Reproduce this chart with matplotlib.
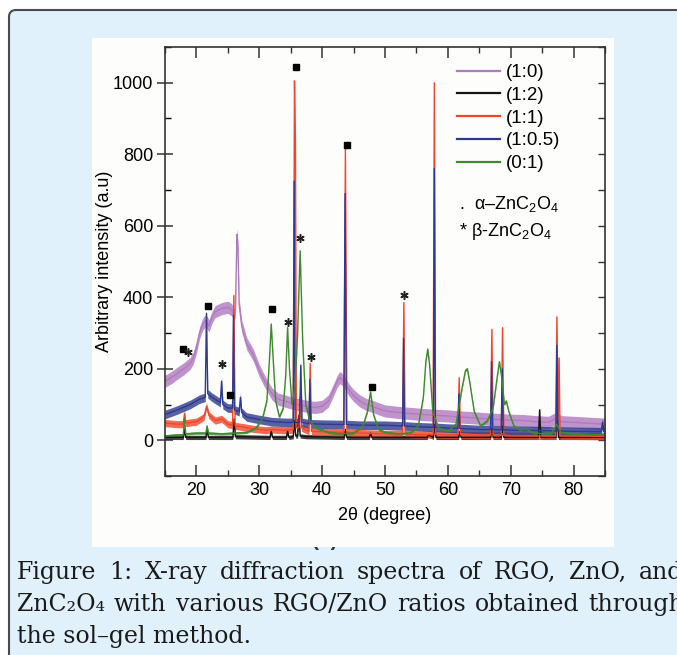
import numpy as np
import matplotlib.pyplot as plt
from matplotlib.patches import FancyBboxPatch, Rectangle
from matplotlib.transforms import IdentityTransform
from matplotlib.ticker import MultipleLocator

plt.rcParams['font.family'] = ['Liberation Sans', 'DejaVu Sans']
plt.rcParams['mathtext.fontset'] = 'custom'
plt.rcParams['mathtext.rm'] = 'Liberation Sans'

# ---- data (2theta in degree, intensity in a.u.) ----
x_10 = [15, 16, 17, 18, 19, 19.5, 20, 20.5, 21, 21.5, 22, 22.5, 23, 24, 25, 25.6, 26.0, 26.2, 26.45, 26.6,
        26.8, 27.2, 28, 29, 30, 31, 32, 33, 34, 35, 36, 37, 38, 39, 40, 41, 41.8, 42.4, 42.8, 43.2, 43.6,
        44.3, 45, 46, 47, 48, 49, 50, 52, 54, 56, 58, 60, 62, 64, 66, 68, 70, 72, 74, 76, 77.3, 78, 80,
        82, 84, 85]
y_10 = [165, 175, 188, 200, 215, 230, 260, 300, 325, 335, 320, 345, 360, 368, 372, 365, 350, 360, 576, 540,
        380, 320, 270, 240, 195, 160, 130, 115, 110, 105, 100, 97, 93, 92, 95, 110, 140, 165, 175, 170, 160,
        140, 125, 110, 100, 95, 88, 82, 78, 75, 72, 70, 68, 65, 63, 60, 58, 56, 55, 52, 50, 62, 52, 50,
        48, 46, 45]

x_12 = [15, 17.9, 18.1, 18.3, 21.5, 21.7, 21.9, 25.8, 26.0, 26.2, 31.7, 31.9, 32.1, 34.3, 34.5, 34.7,
        35.4, 35.6, 35.8, 36.1, 36.3, 36.5, 37.5, 43.5, 43.7, 43.9, 47.5, 47.7, 47.9, 56.7, 56.9, 57.7,
        57.9, 58.1, 61.7, 61.9, 62.1, 66.8, 67.0, 67.2, 68.5, 68.7, 68.9, 74.4, 74.6, 74.8, 77.2, 77.4,
        77.6, 85]
y_12 = [8, 8, 30, 8, 8, 30, 8, 8, 60, 10, 8, 25, 8, 8, 25, 8,
        10, 55, 12, 12, 70, 12, 10, 8, 30, 8, 8, 20, 8, 8, 15, 8,
        45, 8, 8, 25, 8, 8, 35, 8, 8, 40, 8, 8, 85, 8, 8, 70,
        8, 8]

x_11 = [15, 17, 17.9, 18.1, 18.3, 20, 21.2, 21.6, 22.0, 23, 24.0, 25.0, 25.75, 25.95, 26.15, 27, 29, 31,
        32.0, 34, 35.4, 35.6, 35.75, 35.9, 36.3, 36.5, 36.7, 37.9, 38.1, 38.3, 40, 43.45, 43.7, 43.95,
        46, 50, 52.8, 53.0, 53.2, 55, 57.65, 57.85, 58.05, 60, 61.6, 61.8, 62.0, 65, 66.8, 67.0, 67.2,
        68.5, 68.7, 68.9, 70, 75, 77.15, 77.35, 77.55, 77.7, 77.85, 80, 85]
y_11 = [48, 45, 45, 75, 48, 52, 65, 95, 70, 55, 60, 45, 42, 405, 40, 38, 32, 28,
        30, 28, 30, 1005, 840, 35, 35, 120, 35, 25, 215, 25, 24, 22, 815, 22,
        20, 18, 18, 385, 18, 16, 16, 1000, 16, 15, 15, 175, 15, 14, 14, 310, 14,
        14, 315, 14, 13, 12, 12, 345, 60, 230, 12, 12, 11]

x_105 = [15, 17, 19, 20.5, 21.4, 21.6, 21.8, 22.5, 23.8, 24.0, 24.2, 25.0, 25.75, 25.9, 26.05, 26.8, 27.0,
         27.2, 28, 30, 32, 34, 35.4, 35.55, 35.7, 36.4, 36.6, 36.8, 37.9, 38.05, 38.2, 40, 43.45, 43.65,
         43.85, 46, 50, 52.8, 52.95, 53.1, 55, 57.7, 57.85, 58.0, 60, 61.6, 61.75, 61.9, 65, 66.8, 66.95,
         67.1, 68.5, 68.65, 68.8, 70, 75, 77.2, 77.35, 77.5, 80, 84.4, 84.6, 84.8, 85]
y_105 = [72, 85, 100, 115, 120, 355, 130, 120, 105, 165, 100, 90, 90, 350, 85, 80, 120,
         78, 65, 58, 52, 50, 50, 725, 50, 50, 210, 50, 46, 170, 46, 45, 44, 690,
         44, 42, 42, 40, 285, 40, 38, 36, 760, 36, 34, 33, 130, 33, 30, 30, 220,
         30, 29, 200, 29, 28, 27, 26, 265, 26, 25, 24, 50, 24, 24]

x_01 = [15, 17, 17.9, 18.1, 18.3, 20, 21.5, 21.7, 21.9, 24, 26, 28, 29.5, 30.5, 31.2, 31.6, 31.9, 32.2,
        32.6, 33.2, 33.8, 34.2, 34.5, 34.8, 35.2, 35.7, 36.1, 36.5, 36.9, 37.4, 38, 39, 41, 43, 45, 46.5,
        47.2, 47.7, 48.2, 49, 50, 52, 54, 55.3, 56.1, 56.5, 56.8, 57.1, 57.6, 58.5, 60, 61.3, 62.2, 62.8,
        63.1, 63.5, 64.2, 65.2, 66.3, 67.2, 67.8, 68.2, 68.6, 69.0, 69.3, 69.7, 70.5, 71.5, 72.5, 73.5,
        75, 76.5, 77.3, 78, 80, 82, 85]
y_01 = [12, 15, 15, 60, 18, 20, 20, 40, 20, 18, 20, 22, 35, 60, 110, 220, 325, 230,
        110, 65, 90, 180, 315, 200, 100, 150, 300, 530, 280, 100, 55, 35, 22, 18, 20, 40,
        80, 135, 70, 30, 22, 18, 20, 40, 120, 220, 255, 210, 80, 35, 25, 45, 140, 195,
        200, 160, 80, 40, 55, 90, 170, 220, 170, 100, 110, 80, 40, 28, 30, 22,
        18, 20, 45, 22, 18, 16, 15]

# noise band thickness of each trace
labels = ['(1:0)', '(1:2)', '(1:1)', '(1:0.5)', '(0:1)']
noise = [34, 12, 20, 24, 7]
colors = ['#b07ac0', '#151515', '#f0472c', '#2d3a8f', '#3f8a30']
series = [(x_10, y_10), (x_12, y_12), (x_11, y_11), (x_105, y_105), (x_01, y_01)]

sq_x = [17.8, 21.9, 25.3, 32.1, 35.8, 43.9, 47.9]
sq_y = [255, 375, 127, 367, 1045, 825, 148]
st_x = [18.7, 24.1, 34.5, 36.5, 38.2, 53.0]
st_y = [246, 213, 332, 565, 233, 406]

caption = [
    ['Figure', '1:', 'X-ray', 'diffraction', 'spectra', 'of', 'RGO,', 'ZnO,', 'and'],
    ['ZnC₂O₄', 'with', 'various', 'RGO/ZnO', 'ratios', 'obtained', 'through'],
]
caption_last = 'the sol–gel method.'

W, H = 677, 655
fig = plt.figure(figsize=(W / 100, H / 100), dpi=100, facecolor='white')

bg = FancyBboxPatch((9, -30), 720, H - 10 + 30, boxstyle='round,pad=0,rounding_size=7',
                    transform=IdentityTransform(), facecolor='#e0f1fb', edgecolor='#4a4a4a',
                    linewidth=1.5, zorder=-3)
fig.add_artist(bg)
fig.text(325 / W, 1 - 541 / H, '(a)', fontsize=15, fontweight='bold', ha='center', va='center',
         color='#333333', zorder=-2)
panel = Rectangle((92 / W, 1 - 547 / H), 522 / W, 509 / H, transform=fig.transFigure,
                  facecolor='#fdfdfb', edgecolor='none', zorder=-1)
fig.add_artist(panel)

ax = fig.add_axes([165 / W, 1 - 476 / H, 440 / W, 429 / H])
ax.set_facecolor('none')

for (xs, ys), lab, c, nw in zip(series, labels, colors, noise):
    xs = np.array(xs)
    ys = np.array(ys)
    ax.fill_between(xs, ys - nw / 2, ys + nw / 2, color=c, alpha=0.8, linewidth=0)
    ax.plot(xs, ys, color=c, linewidth=1.0, label=lab)

ax.plot(sq_x, sq_y, linestyle='none', marker='s', markersize=4.5, color='black')
ax.plot(st_x, st_y, linestyle='none', marker=(6, 2, 0), markersize=6, markeredgewidth=1.1,
        color='#222222')

ax.set_xlim(15, 85)
ax.set_ylim(-100, 1100)
ax.xaxis.set_minor_locator(MultipleLocator(5))
ax.yaxis.set_minor_locator(MultipleLocator(100))
ax.set_xticks(range(20, 90, 10))
ax.set_yticks(range(0, 1200, 200))

for sp in ax.spines.values():
    sp.set_linewidth(1.2)
    sp.set_color('#333333')
ax.tick_params(axis='x', which='both', direction='in', top=True, bottom=True, color='#333333',
               labelsize=13, pad=4)
ax.tick_params(axis='x', which='major', length=8, width=1.1)
ax.tick_params(axis='x', which='minor', length=4, width=1.0)
ax.tick_params(axis='y', which='major', direction='inout', length=11, width=1.1, right=False,
               color='#333333', labelsize=13, pad=3)
ax.tick_params(axis='y', which='minor', direction='in', length=4, width=1.0, right=False)
sec = ax.secondary_yaxis('right')
sec.yaxis.set_major_locator(MultipleLocator(100))
sec.tick_params(direction='in', length=5, width=1.0, labelright=False, color='#333333')
sec.spines['right'].set_visible(False)

ax.set_xlabel('2θ (degree)', fontsize=13, labelpad=6)
ax.set_ylabel('Arbitrary intensity (a.u)', fontsize=13, labelpad=0)

leg = ax.legend(loc='upper left', bbox_to_anchor=((457 - 165) / 440, (476 - 64) / 429), frameon=False,
                fontsize=13.5, handlelength=2.3, handletextpad=0.3, labelspacing=0.3,
                borderaxespad=0, borderpad=0)
for h in leg.get_lines():
    h.set_linewidth(1.6)

ax.text((459 - 165) / 440, (476 - 204) / 429,
        r'.  α–ZnC$_\mathregular{2}$O$_\mathregular{4}$', transform=ax.transAxes,
        fontsize=13, va='center', ha='left')
ax.text((459 - 165) / 440, (476 - 231) / 429,
        r'* β-ZnC$_\mathregular{2}$O$_\mathregular{4}$', transform=ax.transAxes,
        fontsize=13, va='center', ha='left')

# caption, justified by hand between left margin and a right end past the picture edge
cap_font = dict(fontsize=17, family=['DejaVu Serif', 'DejaVu Sans'], color='#1a1a1a', va='baseline')
left_px = 17
right_px = [683, 684]
baselines = [579, 611]
renderer = fig.canvas.get_renderer()
for words, rpx, bpx in zip(caption, right_px, baselines):
    txts = [fig.text(0, 1 - bpx / H, w, **cap_font) for w in words]
    widths = [t.get_window_extent(renderer).width for t in txts]
    gap = (rpx - left_px - sum(widths)) / (len(words) - 1)
    xpos = left_px
    for t, wd in zip(txts, widths):
        t.set_x(xpos / W)
        xpos += wd + gap
fig.text(left_px / W, 1 - 643 / H, caption_last, **cap_font)

fig.savefig('out.png', dpi=100, facecolor=fig.get_facecolor())
